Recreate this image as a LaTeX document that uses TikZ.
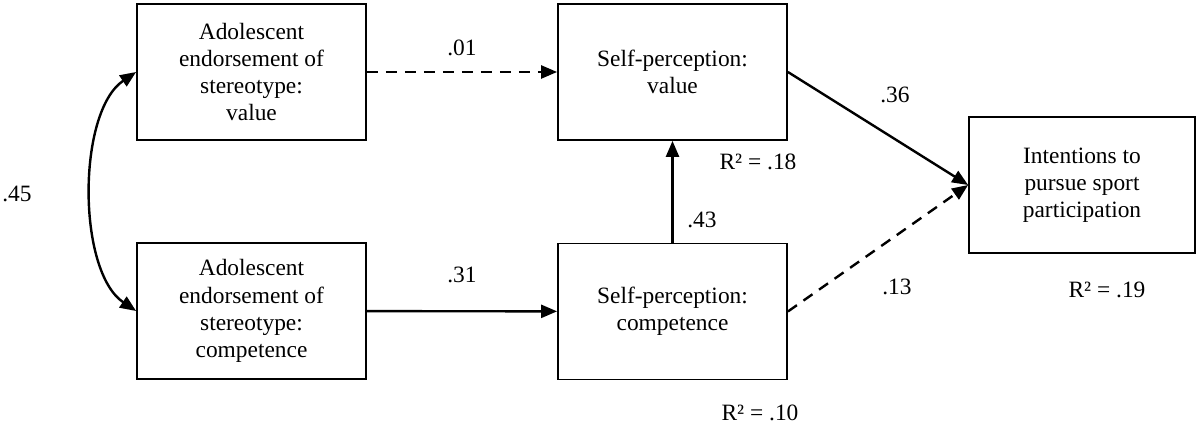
\documentclass[tikz,border=0pt]{standalone}
\usepackage{fontspec}
\setmainfont{Liberation Serif}
\usetikzlibrary{arrows.meta}

\begin{document}
\begin{tikzpicture}[x=0.5pt,y=-0.5pt,
    font=\fontsize{11.7}{13.6}\selectfont,
    var/.style={draw,line width=0.9pt,minimum width=114.5pt,minimum height=68pt,align=center,inner sep=0pt},
    eff/.style={-{Triangle[length=8pt,width=6.5pt]},line width=1.2pt},
    nseff/.style={eff,dash pattern=on 5.5pt off 4pt}]
    \useasboundingbox (0,0) rectangle (1197,426);
    % Draw boxes
    \node[var] (advval) at (251.5,72) {Adolescent\\endorsement of\\stereotype:\\value};
    \node[var] (advcomp) at (251.5,311) {Adolescent\\endorsement of\\stereotype:\\competence};
    \node[var] (spval) at (672.5,72) {Self-perception:\\value};
    \node[var] (spcomp) at (672.5,311.5) {Self-perception:\\competence};
    \node[var,minimum width=113pt] (intent) at (1082,185) {Intentions to\\pursue sport\\participation};

    % Draw paths
    \draw[nseff] (advval) -- (spval); % n.s.
    \draw[eff] (advcomp) -- (spcomp);
    \draw[eff] (spcomp) -- (spval);
    \draw[eff] (spval.east) -- (intent.west);
    \draw[nseff] (spcomp.east) -- (intent.west); % n.s.
    \draw[eff,{Triangle[length=8pt,width=6.5pt]}-{Triangle[length=8pt,width=6.5pt]}]
        (advval.west) .. controls (77,112) and (77,271) .. (advcomp.west); % correlation

    % Label values
    \node (r45) at (17,194) {.45};
    \node (b01) at (462,48) {.01};
    \node (b31) at (462,275) {.31};
    \node (b43) at (702,220) {.43};
    \node (b36) at (895,95) {.36};
    \node (b13) at (897,287) {.13};
    \node (rsqval) at (758,162) {R² = .18};
    \node (rsqcomp) at (760,413) {R² = .10};
    \node (rsqint) at (1107,290) {R² = .19};
\end{tikzpicture}
\end{document}
